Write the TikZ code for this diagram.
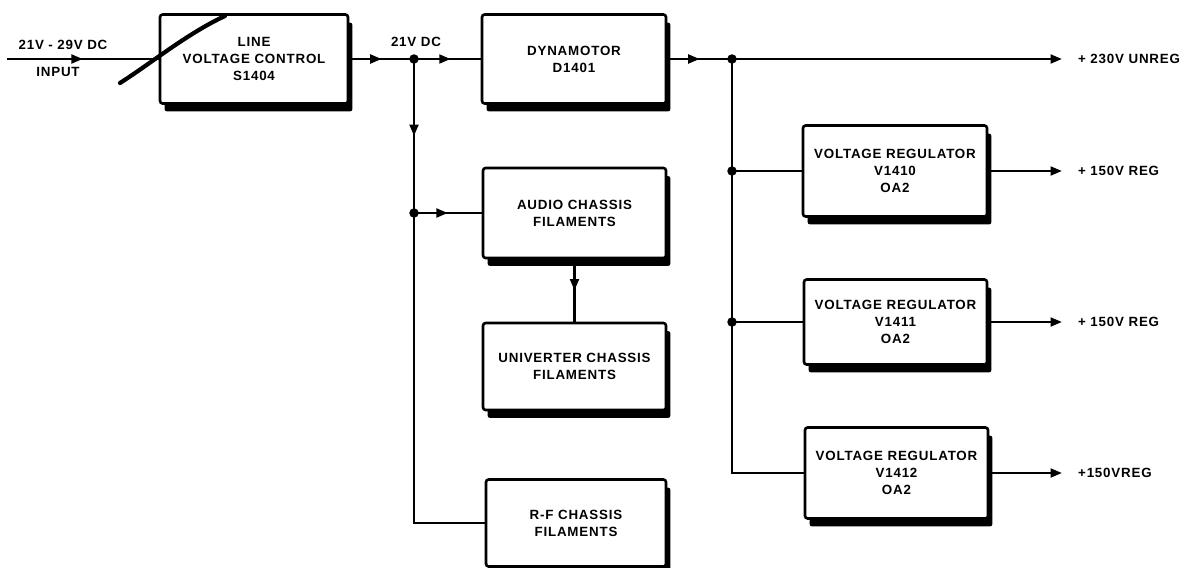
\documentclass[tikz,border=0pt]{standalone}
\usepackage{fontspec}
\newfontfamily\lettering[LetterSpace=6]{Liberation Sans}
\usetikzlibrary{arrows.meta,positioning,shadows,decorations.markings}

\tikzset{
  block/.style={draw, line width=1.5pt, rounded corners=1.5pt, fill=white, align=center,
    font=\lettering\bfseries\fontsize{7.6}{9.7}\selectfont,
    drop shadow={shadow xshift=0.09cm, shadow yshift=-0.16cm, fill=black, opacity=1}},
  wire/.style={line width=1.4pt},
  tip/.style={-{Triangle[length=6.5pt,width=5pt]}},
  midarrow/.style={postaction={decorate}, decoration={markings,
    mark=at position #1 with {\arrow{Triangle[length=6.5pt,width=5pt]}}}},
  midarrow/.default=0.5,
  lbl/.style={font=\lettering\bfseries\fontsize{7.6}{9.7}\selectfont, inner sep=1pt},
  outlbl/.style={lbl, anchor=west, inner xsep=9pt}
}

\begin{document}
\begin{tikzpicture}[x=0.02cm, y=-0.02cm]
\useasboundingbox (0,0) rectangle (1204,568);

% blocks
\node[block, minimum width=3.76cm, minimum height=1.78cm] (lvc) at (254,59) {LINE\\VOLTAGE CONTROL\\S1404};
\node[block, minimum width=3.68cm, minimum height=1.78cm] (dyn) at (574,59) {DYNAMOTOR\\D1401};
\node[block, minimum width=3.66cm, minimum height=1.80cm] (audio) at (574.5,213) {AUDIO CHASSIS\\FILAMENTS};
\node[block, minimum width=3.66cm, minimum height=1.74cm] (univ) at (574.5,366.5) {UNIVERTER CHASSIS\\FILAMENTS};
\node[block, minimum width=3.60cm, minimum height=1.74cm] (rf) at (576,523) {R-F CHASSIS\\FILAMENTS};
\node[block, minimum width=3.68cm, minimum height=1.82cm] (reg0) at (895,171) {VOLTAGE REGULATOR\\V1410\\OA2};
\node[block, minimum width=3.66cm, minimum height=1.70cm] (reg1) at (895.5,322) {VOLTAGE REGULATOR\\V1411\\OA2};
\node[block, minimum width=3.66cm, minimum height=1.82cm] (reg2) at (896.5,473) {VOLTAGE REGULATOR\\V1412\\OA2};

% labels
\node[lbl] (inv) at (63,45) {21V - 29V DC};
\node[lbl] (inp) at (58,72) {INPUT};
\node[lbl] (dcv) at (416,42) {21V DC};
\node[outlbl] (out0) at (1062,59) {+ 230V UNREG};
\node[outlbl] (out1) at (1062,171) {+ 150V REG};
\node[outlbl] (out2) at (1062,322) {+ 150V REG};
\node[outlbl] (out3) at (1062,473) {+150VREG};

% junctions
\coordinate (in) at (7,59);
\coordinate (j1) at (414,59);
\coordinate (j2) at (414,213);
\coordinate (j3) at (732,59);
\coordinate (j4) at (732,171);
\coordinate (j5) at (732,322);

% wiring
\draw[wire, midarrow] (in) -- (lvc);
\draw[wire, midarrow] (lvc) -- (j1);
\draw[wire, midarrow=0.55] (j1) -- (dyn);
\draw[wire, midarrow] (dyn) -- (j3);
\draw[wire, tip] (j3) -- (out0);
\draw[wire, midarrow] (j1) -- (j2);
\draw[wire, midarrow] (j2) -- (audio);
\draw[wire] (j2) |- (rf);
\draw[wire, midarrow] (audio) -- (univ);
\draw[wire] (j3) -- (j4) -- (j5) |- (reg2);
\draw[wire] (j4) -- (reg0);
\draw[wire] (j5) -- (reg1);
\draw[wire, tip] (reg0) -- (out1);
\draw[wire, tip] (reg1) -- (out2);
\draw[wire, tip] (reg2) -- (out3);
\foreach \j in {j1,j2,j3,j4,j5}
  \fill (\j) circle (0.095cm);

% control knob stroke
\draw[line width=2.4pt, line cap=round] (120,83) .. controls (150,64) and (188,33) .. (225,16);
\end{tikzpicture}
\end{document}
